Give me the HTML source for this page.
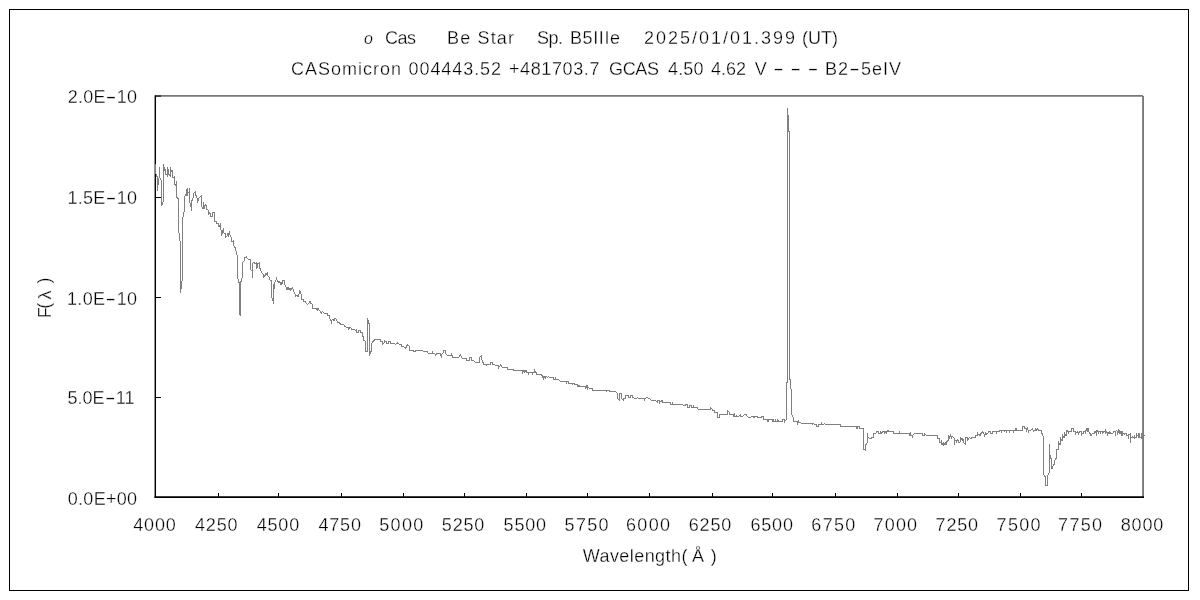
<!DOCTYPE html>
<html lang="ja"><head><meta charset="utf-8"><title>ο Cas Be Star spectrum</title>
<style>html,body{margin:0;padding:0;background:#fff;width:1200px;height:600px;overflow:hidden}svg{display:block;filter:grayscale(1)}text{font-family:"Liberation Sans", "IPAGothic", sans-serif;font-size:18px;fill:#000;stroke:#fff;stroke-width:.3px}</style></head><body>
<svg width="1200" height="600" viewBox="0 0 1200 600">
<rect x="0" y="0" width="1200" height="600" fill="#fff"/>
<rect x="9.5" y="9.5" width="1179" height="581" fill="none" stroke="#000" stroke-width="1"/>
<path d="M156 95.92H1142.9M1143.05 95.9V498" fill="none" stroke="#787878" stroke-width="1.85"/>
<path d="M155.3 95.2V498" fill="none" stroke="#000" stroke-width="1.45"/>
<path d="M154.6 497H1144" fill="none" stroke="#000" stroke-width="1.75"/>
<path d="M155 96.1H161M155 197.5H161M155 297.5H161M155 397.5H161M218.5 497V493M278.5 497V493M341.5 497V493M403.5 497V493M464.5 497V493M526.5 497V493M587.5 497V493M649.5 497V493M712.5 497V493M772.5 497V493M835.5 497V493M897.5 497V493M958.5 497V493M1020.5 497V493M1081.5 497V493" fill="none" stroke="#000" stroke-width="1"/>
<path d="M177.50 198.30 L178.25 198.30 L178.50 232.00 L179.50 234.00 L180.00 241.00 L180.70 242.00 L180.60 292.50 L181.50 285.00 L182.20 279.00 L182.50 218.00 L183.50 216.50 L183.50 212.50 L184.50 211.50M189.50 203.00 L190.50 203.00 L191.00 207.00 L191.50 210.50 L191.80 201.00 L193.00 198.00 L194.00 193.00 L195.50 191.50 L196.00 195.50 L197.50 199.00 L197.80 202.50 L198.20 199.50 L199.50 197.50 L201.50 195.50 L201.50 206.50 L203.00 209.00 L203.50 202.50 L204.50 207.50 L205.50 205.00 L206.50 205.50 L207.00 209.50 L208.50 210.50 L208.50 214.50 L210.00 212.50 L210.50 216.50 L212.50 216.50 L212.50 212.50 L214.50 212.50 L214.50 221.00 L216.00 221.50 L217.00 224.00 L218.50 223.50 L219.00 226.50 L220.50 224.00 L221.50 235.50 L222.50 232.00 L223.50 228.50 L224.00 233.00 L225.50 233.50 L225.50 237.50 L227.00 236.00 L228.00 233.00 L228.50 235.00 L229.50 231.50 L230.00 235.00 L231.50 237.50 L232.00 241.50 L233.50 240.50 L233.50 245.00 L235.00 247.50 L236.00 251.00 L237.00 255.00 L237.50 270.00 L237.60 277.00 L239.00 282.50 L239.50 283.50 L239.60 314.00 L240.50 315.50 L240.50 283.00 L241.50 280.00 L242.50 275.50 L242.50 262.50 L244.00 261.00 L245.00 257.50 L246.50 256.50 L247.50 259.00 L250.50 259.50 L251.00 270.00 L252.00 271.00 L252.50 277.50 L252.50 264.00 L254.00 262.00 L255.00 263.50 L256.50 263.00 L257.00 268.50 L257.50 263.50 L259.50 263.00 L260.00 268.50 L261.50 272.00 L263.00 274.00 L263.50 277.50 L265.00 275.50 L266.00 273.50 L267.00 275.00 L267.50 273.50 L268.00 276.00 L269.50 277.50 L270.00 280.00 L271.50 280.50 L271.80 298.00 L272.80 299.50 L273.30 304.00 L273.50 284.50 L274.00 289.50 L274.50 282.50 L276.00 280.50 L276.50 277.00 L277.00 280.00 L278.50 282.50 L279.00 281.00 L280.50 284.00 L281.00 282.00 L282.00 284.50 L282.50 280.50 L284.50 280.50 L285.00 285.00 L286.50 288.00 L287.00 289.50 L288.00 287.50 L289.00 290.00 L290.00 288.50 L290.50 290.00 L292.50 287.50 L293.50 291.00 L295.50 295.00 L295.50 296.50 L297.00 295.00 L298.00 296.50 L299.00 294.50 L299.50 290.00 L301.00 294.00 L301.50 299.00 L303.00 299.50 L303.50 301.50 L305.50 302.00 L306.50 303.50 L307.50 304.50 L309.00 303.00 L310.00 301.00 L310.50 303.50 L312.00 303.50 L312.50 308.50 L316.00 308.50 L317.50 310.00 L318.00 308.50 L319.50 310.50 L321.50 313.00 L322.50 311.50 L324.50 313.50 L327.00 313.50 L328.00 316.00 L329.50 315.50 L330.00 319.00 L331.50 322.50 L331.80 320.00 L333.50 319.50 L334.00 320.50 L335.00 318.50 L336.50 319.50 L337.50 322.00 L339.00 322.50 L341.00 324.50 L343.50 324.50 L345.50 327.00 L348.50 327.50 L348.50 329.50 L349.50 327.50 L351.00 328.00 L352.00 329.50 L354.50 329.50 L355.50 330.50 L356.50 330.00 L356.50 332.50 L358.50 332.50 L358.50 330.00 L360.50 330.00 L361.00 332.50 L362.50 332.50 L363.00 336.50 L364.00 340.50 L365.50 341.50 L365.50 351.50 L367.30 351.50 L367.50 318.50 L368.50 322.00 L368.50 323.50 L369.40 323.50 L369.50 355.50 L370.50 352.50 L371.50 350.50 L371.50 343.50 L373.00 341.50 L375.50 339.00 L380.50 339.00 L380.50 341.00 L382.00 341.50 L382.50 344.50 L384.00 343.00 L384.50 341.00 L386.50 341.50 L386.50 343.50 L388.50 343.50 L388.50 341.00 L390.50 341.00 L390.50 343.50 L394.50 343.50 L395.50 344.50 L397.50 343.00 L399.00 344.00 L401.50 344.00 L401.50 346.00 L403.50 346.50 L405.50 348.50 L407.50 344.50 L409.00 346.00 L409.50 350.50 L413.00 350.50 L413.50 351.50 L415.50 351.00 L416.00 350.00 L422.00 350.00 L422.50 351.00 L427.00 351.50 L428.00 353.00 L432.00 353.00 L432.50 351.50 L432.80 353.50 L435.00 354.00 L435.80 355.50 L436.50 354.00 L437.50 353.50 L440.00 353.50 L440.50 354.50 L441.50 357.50 L441.80 354.00 L443.00 353.50 L443.50 350.50 L445.50 350.50 L445.80 353.50 L447.50 355.50 L451.00 355.50 L451.50 353.50 L452.00 355.50 L452.50 357.50 L458.50 357.50 L460.50 355.00 L462.50 358.50 L466.50 358.50 L466.50 360.50 L469.50 360.50 L469.50 357.50 L471.50 357.50 L471.50 360.00 L473.50 360.50 L475.50 362.50 L479.50 362.50 L479.50 357.50 L481.50 355.50 L481.80 359.00 L483.50 364.00 L484.00 364.50 L486.50 365.00 L487.00 364.50 L490.50 364.50 L490.50 362.00 L492.50 362.00 L493.00 364.50 L494.50 365.00 L498.50 365.50 L498.80 367.50 L500.50 365.00 L502.50 367.50 L507.50 367.50 L507.80 369.50 L513.50 369.50 L514.00 370.50 L522.50 370.50 L522.80 372.50 L524.00 370.50 L524.50 372.50 L526.00 370.50 L526.50 372.50 L528.50 372.50 L528.50 374.50 L529.00 372.50 L532.50 372.50 L532.50 374.50 L533.00 372.50 L534.50 372.50 L534.80 370.50 L536.00 372.50 L536.50 374.50 L541.00 374.50 L542.50 376.00 L543.50 379.50 L543.80 376.50 L545.50 378.00 L546.00 376.50 L547.50 377.50 L548.50 376.50 L549.50 377.50 L553.50 377.50 L553.80 379.50 L555.50 379.50 L555.50 377.50 L556.00 379.50 L558.50 379.50 L560.50 381.50 L566.50 381.50 L566.50 383.50 L567.00 381.50 L568.50 381.50 L568.50 383.50 L572.50 383.50 L572.50 384.50 L573.00 383.50 L574.50 383.50 L575.00 384.50 L577.50 384.50 L577.80 386.50 L579.00 385.50 L579.50 386.50 L585.50 386.50 L585.80 388.50 L586.50 386.50 L587.50 388.50 L587.80 386.50 L589.50 388.50 L592.50 388.50 L592.50 390.50 L606.50 390.50 L606.50 391.50 L607.00 390.50 L609.00 390.50 L609.50 391.50 L615.50 391.50 L617.00 392.50 L617.50 398.50 L619.50 400.50 L619.50 393.50 L621.50 393.50 L621.80 398.50 L623.50 400.50 L623.50 398.50 L625.50 398.50 L625.50 395.50 L628.50 395.50 L628.50 397.50 L630.50 397.50 L630.50 395.50 L632.50 395.50 L632.80 397.50 L634.50 398.50 L636.50 398.50 L637.50 397.50 L639.00 398.50 L644.50 398.50 L644.50 400.50 L645.00 398.50 L647.00 397.50 L648.50 398.50 L649.50 398.50 L651.50 400.50 L655.50 400.50 L657.50 402.50 L657.80 400.50 L659.50 400.50 L659.80 402.50 L660.50 401.50 L662.50 400.50 L662.50 402.50 L670.50 402.50 L670.50 404.50 L672.50 404.50 L672.50 402.50 L672.80 404.50 L682.50 404.50 L683.50 405.50 L685.00 405.50 L685.50 404.50 L687.50 404.50 L687.50 407.50 L689.50 407.50 L689.50 405.50 L691.50 405.50 L691.50 407.50 L693.50 407.50 L693.50 405.50 L693.80 407.50 L697.00 407.50 L698.50 409.50 L710.50 409.50 L710.50 407.50 L712.50 409.50 L713.00 410.50 L714.50 410.50 L714.50 412.50 L717.50 412.50 L717.50 417.50 L719.50 417.50 L719.50 414.50 L727.50 414.50 L727.50 410.50 L729.00 412.00 L729.50 414.50 L733.50 414.50 L733.50 416.50 L734.50 414.50 L734.80 416.50 L736.50 416.50 L736.50 415.00 L736.80 416.50 L738.50 416.50 L740.50 414.50 L740.50 416.50 L742.50 416.50 L744.50 414.50 L746.50 414.50 L746.80 416.00 L748.50 417.50 L750.50 417.50 L751.50 416.50 L753.50 416.50 L753.80 417.50 L755.50 416.50 L757.00 416.50 L758.00 417.50 L761.50 417.50 L761.50 416.20 L763.50 416.20 L763.50 419.50 L767.50 419.50 L767.50 421.50 L768.50 421.50 L768.50 419.50 L772.50 419.50 L772.50 421.50 L773.50 421.50 L773.50 419.50 L774.00 421.50 L775.50 421.50 L775.50 419.50 L776.00 421.50 L777.50 421.50 L777.80 419.50 L778.20 421.50 L782.50 421.50 L782.80 419.50 L784.50 419.50 L784.80 421.50 L786.00 420.00 L786.50 419.00 L786.50 383.00 L787.50 382.50 L787.50 108.50 L787.55 115.70 L788.50 116.00 L788.50 131.50 L789.50 132.00 L789.50 379.00 L790.50 379.50 L790.80 388.50 L791.50 389.50 L791.50 414.50 L792.50 415.50 L793.50 418.00 L793.50 421.50 L797.00 421.50 L797.50 423.50 L798.50 421.50 L799.00 423.00 L800.00 422.00 L801.50 423.50 L812.00 423.50 L812.50 424.50 L813.50 423.50 L814.50 424.50 L816.50 424.50 L816.50 426.50 L818.50 426.50 L818.50 424.50 L821.00 424.50 L821.50 423.50 L822.00 424.50 L823.50 424.50 L824.50 423.50 L826.00 424.50 L840.50 424.50 L840.50 426.50 L856.50 426.50 L856.50 428.50 L857.50 428.50 L857.50 426.50 L859.50 426.50 L859.50 428.50 L863.50 428.50 L863.50 449.50 L865.00 449.50 L865.50 450.50 L865.50 445.50 L866.50 443.50 L867.50 442.00 L867.50 433.00 L867.80 437.00 L869.00 438.00 L870.00 438.50 L871.50 438.50 L872.00 437.50 L873.50 437.50 L873.50 433.50 L876.00 433.50 L876.50 431.50 L878.50 431.50 L878.50 433.50 L880.50 433.50 L880.50 431.50 L882.00 433.50 L882.50 431.50 L884.50 431.50 L884.50 433.50 L885.50 432.00 L886.50 433.50 L886.50 431.50 L888.50 430.50 L889.00 431.50 L893.50 431.50 L893.50 433.50 L899.50 433.50 L899.50 431.50 L899.80 433.50 L909.50 433.50 L909.50 435.50 L910.50 433.50 L910.80 435.50 L912.00 435.50 L912.50 437.50 L912.80 435.00 L914.50 433.50 L922.50 433.50 L922.50 435.50 L924.50 435.50 L924.50 433.50 L925.50 434.50 L926.50 435.50 L937.50 435.50 L937.80 438.50 L939.50 438.50 L939.80 442.50 L941.00 442.50 L941.50 444.50 L941.80 440.50 L942.20 444.50 L943.50 445.50 L943.80 442.50 L944.50 444.50 L945.50 444.50 L945.50 442.50 L946.50 442.50 L946.50 444.50 L947.00 441.50 L948.50 440.00 L948.80 435.50 L949.50 437.50 L950.50 435.50 L951.50 437.50 L952.00 436.50 L954.00 437.50 L954.50 444.50 L954.80 440.50 L956.00 440.50 L956.50 442.50 L957.00 440.50 L958.00 439.50 L958.50 442.50 L960.00 442.50 L960.50 437.50 L961.00 439.50 L962.00 438.50 L962.50 440.50 L963.00 438.50 L963.50 442.50 L964.50 443.50 L965.50 444.50 L965.50 437.50 L967.50 437.50 L967.50 440.50 L968.50 439.00 L969.50 437.50 L971.00 438.50 L971.50 437.50 L975.50 437.50 L975.50 435.50 L977.50 435.00 L977.80 433.50 L978.50 434.50 L979.50 434.50 L980.00 435.50 L980.50 434.00 L981.50 433.50 L982.50 431.50 L983.50 432.50 L984.50 435.50 L985.50 433.50 L986.00 435.00 L986.50 433.50 L988.00 433.50 L988.50 431.50 L990.50 431.50 L990.50 433.50 L992.50 433.50 L992.50 431.50 L996.50 431.50 L996.50 433.50 L996.80 431.50 L999.00 431.50 L999.50 430.50 L1001.00 430.50 L1001.50 431.50 L1002.00 430.50 L1004.00 430.50 L1004.50 431.50 L1006.00 430.50 L1006.50 431.50 L1007.00 430.50 L1009.00 430.50 L1009.50 431.50 L1010.00 430.50 L1013.00 430.50 L1013.50 431.50 L1014.00 430.50 L1015.50 430.50 L1015.50 428.50 L1016.50 428.50 L1016.50 430.50 L1022.50 430.50 L1022.50 426.50 L1024.50 426.50 L1024.80 428.50 L1026.00 428.50 L1026.50 430.50 L1027.50 428.50 L1028.50 431.50 L1029.00 430.50 L1030.50 430.50 L1032.50 428.50 L1033.50 431.50 L1034.50 430.50 L1035.50 430.50 L1035.80 428.50 L1036.50 430.50 L1037.80 428.50 L1039.00 430.50 L1041.50 430.50 L1042.00 433.50 L1042.80 435.50 L1043.50 436.50 L1043.50 474.50 L1045.50 477.00 L1045.50 485.50 L1047.50 485.50 L1047.50 476.50 L1049.40 472.00 L1049.50 444.50 L1050.00 455.00 L1050.50 458.50 L1051.50 459.00 L1051.80 468.50 L1052.50 468.00 L1053.00 466.00 L1054.50 464.00 L1054.80 460.50 L1056.50 457.50 L1056.50 450.00 L1058.50 449.50 L1058.80 442.50 L1060.00 444.50 L1060.50 442.50 L1060.80 438.50 L1062.00 440.50 L1062.50 438.50 L1062.80 435.50 L1064.00 437.50 L1064.50 435.50 L1064.80 433.50 L1066.00 435.50 L1066.50 434.50 L1066.80 430.50 L1068.00 431.50 L1068.50 433.50 L1068.80 431.50 L1071.50 431.50 L1071.50 428.50 L1073.50 428.50 L1073.50 431.50 L1075.00 431.50 L1075.50 433.50 L1076.00 432.00 L1077.50 432.50 L1077.80 431.50 L1078.50 433.50 L1079.50 431.50 L1081.50 431.50 L1081.50 435.50 L1082.00 433.50 L1083.50 433.50 L1083.80 431.50 L1085.50 431.50 L1085.50 433.50 L1086.00 430.50 L1086.80 428.50 L1087.50 431.50 L1087.80 428.50 L1088.50 428.50 L1088.80 431.50 L1089.50 432.50 L1090.50 434.50 L1091.00 435.50 L1092.50 433.50 L1094.50 433.50 L1094.80 431.50 L1096.00 432.50 L1096.50 435.50 L1096.80 430.50 L1097.50 430.50 L1097.80 431.50 L1098.50 433.50 L1098.80 431.50 L1100.50 431.50 L1100.50 433.50 L1101.00 431.50 L1102.50 431.50 L1102.80 433.50 L1103.20 431.50 L1105.00 431.50 L1105.50 430.50 L1105.80 433.50 L1106.20 431.50 L1107.50 432.50 L1107.50 435.50 L1108.00 432.50 L1109.00 433.50 L1109.50 431.50 L1110.00 433.50 L1110.50 432.50 L1111.50 433.50 L1113.00 433.50 L1113.50 431.50 L1115.50 431.50 L1115.50 435.50 L1115.80 431.50 L1116.80 430.50 L1117.50 433.50 L1118.50 430.50 L1119.00 432.50 L1119.50 430.50 L1120.00 433.50 L1120.50 431.50 L1121.20 431.50 L1121.50 435.50 L1122.20 435.50 L1122.50 431.50 L1122.75 433.25 L1124.25 433.25 L1124.50 435.25 L1124.75 433.50 L1126.50 433.50 L1126.75 435.25 L1128.25 435.25 L1128.50 438.75 L1128.75 434.25 L1130.25 434.25 L1130.50 433.25 L1130.50 442.75 L1130.75 437.00 L1131.25 437.50 L1132.25 437.50 L1132.50 436.00 L1132.75 437.25 L1134.25 437.25 L1134.50 438.75 L1134.75 435.50 L1135.00 437.25 L1136.25 437.25 L1136.50 433.25 L1136.75 435.50 L1138.25 435.50 L1138.40 433.25 L1138.60 437.50 L1139.00 433.25 L1139.50 437.50 L1141.00 437.50 L1141.25 433.25 L1141.50 438.75 L1142.25 438.75 L1142.50 433.25 L1143.25 435.25 L1144.75 435.50M155.5 164V174M156.5 174V177M157.5 176V191M158.5 178V185M159.5 167V178M160.5 178V180M161.5 180V206M162.5 202V205M163.5 164V202M164.5 167V171M165.5 169V175M166.5 174V175M167.5 167V177M168.5 169V175M169.5 174V176M170.5 167V177M171.5 170V172M172.5 170V178M173.5 177V178M174.5 176V185M175.5 184V186M176.5 181V198M177.5 197V199M184.5 196V212M185.5 194V196M186.5 189V196M187.5 188V196M188.5 192V193M189.5 188V203" fill="none" stroke="#808080" stroke-width="1" stroke-linejoin="miter" stroke-linecap="butt" shape-rendering="crispEdges"/>
<text id="t1a" x="364.00" y="44.0" style="font-style:italic;font-size:16px">ο</text>
<text id="t1b" x="385.00" y="44.0" textLength="31.00" lengthAdjust="spacing">Cas</text>
<text id="t1c" x="447.00" y="44.0" textLength="67.00" lengthAdjust="spacing">Be Star</text>
<text id="t1d" x="537.00" y="44.0" textLength="26.00" lengthAdjust="spacing">Sp.</text>
<text id="t1e" x="570.00" y="44.0" textLength="50.00" lengthAdjust="spacing">B5IIIe</text>
<text id="t1f" x="644.00" y="44.0" textLength="151.00" lengthAdjust="spacing">2025/01/01.399</text>
<text id="t1g" x="802.00" y="44.0" textLength="36.00" lengthAdjust="spacing">(UT)</text>
<text id="t2a" x="291.00" y="75.0" textLength="110.00" lengthAdjust="spacing">CASomicron</text>
<text id="t2b" x="408.60" y="75.0" textLength="92.40" lengthAdjust="spacing">004443.52</text>
<text id="t2c" x="509.00" y="75.0" textLength="90.40" lengthAdjust="spacing">+481703.7</text>
<text id="t2d" x="609.00" y="75.0" textLength="50.00" lengthAdjust="spacing">GCAS</text>
<text id="t2e" x="668.00" y="75.0" textLength="35.40" lengthAdjust="spacing">4.50</text>
<text id="t2f" x="711.00" y="75.0" textLength="35.00" lengthAdjust="spacing">4.62</text>
<text id="t2g" x="754.70" y="75.0">V</text>
<text id="t2h" x="773.00" y="75.0" textLength="45.60" lengthAdjust="spacing"><tspan textLength="11" lengthAdjust="spacingAndGlyphs">-</tspan> <tspan textLength="11" lengthAdjust="spacingAndGlyphs">-</tspan> <tspan textLength="11" lengthAdjust="spacingAndGlyphs">-</tspan></text>
<text id="t2i" x="825.00" y="75.0" textLength="76.00" lengthAdjust="spacing">B2<tspan textLength="11" lengthAdjust="spacingAndGlyphs">-</tspan>5eIV</text>
<text id="y1" x="67.80" y="103.0" textLength="69.20" lengthAdjust="spacing">2.0E<tspan textLength="11" lengthAdjust="spacingAndGlyphs">-</tspan>10</text>
<text id="y2" x="67.60" y="204.0" textLength="69.40" lengthAdjust="spacing">1.5E<tspan textLength="11" lengthAdjust="spacingAndGlyphs">-</tspan>10</text>
<text id="y3" x="67.00" y="305.0" textLength="70.00" lengthAdjust="spacing">1.0E<tspan textLength="11" lengthAdjust="spacingAndGlyphs">-</tspan>10</text>
<text id="y4" x="67.40" y="404.0" textLength="67.10" lengthAdjust="spacing">5.0E<tspan textLength="11" lengthAdjust="spacingAndGlyphs">-</tspan>11</text>
<text id="y5" x="67.80" y="505.0" textLength="69.20" lengthAdjust="spacing">0.0E+00</text>
<text id="xt1" x="582.75" y="562.0" textLength="98.25" lengthAdjust="spacing">Wavelength</text>
<text id="xt2" x="681.50" y="562.0">(</text>
<text id="xt3" x="692.00" y="562.0">Å</text>
<text id="xt4" x="710.75" y="562.0">)</text>
<text id="x0" x="133.25" y="530.5" textLength="42.50" lengthAdjust="spacing">4000</text>
<text id="x1" x="194.97" y="530.5" textLength="42.50" lengthAdjust="spacing">4250</text>
<text id="x2" x="256.69" y="530.5" textLength="42.50" lengthAdjust="spacing">4500</text>
<text id="x3" x="318.41" y="530.5" textLength="42.50" lengthAdjust="spacing">4750</text>
<text id="x4" x="379.25" y="530.5" textLength="44.00" lengthAdjust="spacing">5000</text>
<text id="x5" x="441.84" y="530.5" textLength="42.50" lengthAdjust="spacing">5250</text>
<text id="x6" x="503.56" y="530.5" textLength="42.50" lengthAdjust="spacing">5500</text>
<text id="x7" x="564.56" y="530.5" textLength="44.00" lengthAdjust="spacing">5750</text>
<text id="x8" x="626.00" y="530.5" textLength="44.00" lengthAdjust="spacing">6000</text>
<text id="x9" x="688.72" y="530.5" textLength="42.50" lengthAdjust="spacing">6250</text>
<text id="x10" x="750.44" y="530.5" textLength="42.50" lengthAdjust="spacing">6500</text>
<text id="x11" x="811.31" y="530.5" textLength="44.00" lengthAdjust="spacing">6750</text>
<text id="x12" x="873.62" y="530.5" textLength="43.50" lengthAdjust="spacing">7000</text>
<text id="x13" x="935.59" y="530.5" textLength="42.50" lengthAdjust="spacing">7250</text>
<text id="x14" x="996.62" y="530.5" textLength="44.00" lengthAdjust="spacing">7500</text>
<text id="x15" x="1058.06" y="530.5" textLength="44.00" lengthAdjust="spacing">7750</text>
<text id="x16" x="1120.75" y="530.5" textLength="42.50" lengthAdjust="spacing">8000</text>
<text transform="translate(51.00 318.20) rotate(-90)">F</text>
<text transform="translate(49.50 308.80) rotate(-90)">(</text>
<text transform="translate(51.00 299.50) rotate(-90)">λ</text>
<text transform="translate(49.50 283.60) rotate(-90)">)</text>
</svg></body></html>
